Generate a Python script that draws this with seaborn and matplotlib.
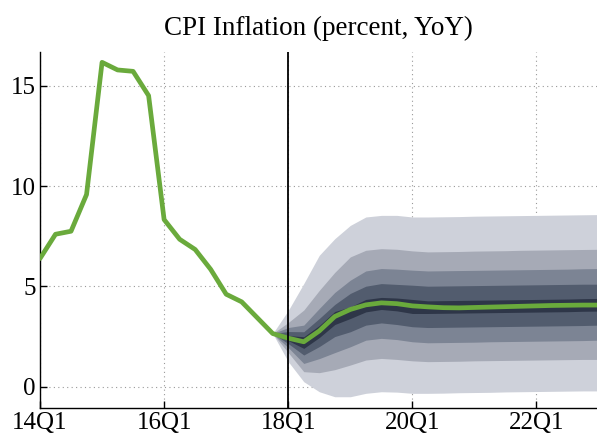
import numpy as np
import pandas as pd
import matplotlib
matplotlib.use("Agg")
import matplotlib.pyplot as plt
import seaborn as sns

# quarters counted from 14Q1 (= 0)
hist_q = list(range(0, 16))
hist_cpi = [6.39, 7.60, 7.75, 9.58, 16.17, 15.79, 15.72, 14.51,
            8.33, 7.35, 6.84, 5.85, 4.61, 4.23, 3.44, 2.65]

fan_q = list(range(15, 37))
median = [2.65, 2.42, 2.24, 2.78, 3.50, 3.85, 4.08, 4.18, 4.14, 4.03, 3.98,
          3.94, 3.93, 3.95, 3.97, 3.99, 4.01, 4.03, 4.05, 4.06, 4.07, 4.07]

# band bounds, outermost first
upper_90 = [2.65, 3.80, 5.14, 6.55, 7.38, 8.04, 8.46, 8.54, 8.54, 8.46, 8.46,
            8.47, 8.48, 8.50, 8.51, 8.52, 8.53, 8.54, 8.55, 8.56, 8.57, 8.58]
lower_90 = [2.65, 1.25, 0.25, -0.25, -0.50, -0.50, -0.33, -0.25, -0.27, -0.33, -0.33,
            -0.32, -0.30, -0.29, -0.28, -0.26, -0.25, -0.24, -0.23, -0.22, -0.21, -0.21]
upper_70 = [2.65, 3.20, 3.82, 4.80, 5.70, 6.47, 6.80, 6.88, 6.85, 6.77, 6.72,
            6.73, 6.74, 6.76, 6.77, 6.78, 6.80, 6.81, 6.82, 6.83, 6.84, 6.85]
lower_70 = [2.65, 1.70, 0.75, 0.70, 0.85, 1.08, 1.33, 1.41, 1.36, 1.29, 1.25,
            1.26, 1.27, 1.29, 1.30, 1.31, 1.32, 1.33, 1.34, 1.35, 1.36, 1.36]
upper_50 = [2.65, 2.95, 3.07, 3.90, 4.70, 5.31, 5.77, 5.89, 5.86, 5.81, 5.77,
            5.78, 5.79, 5.80, 5.81, 5.82, 5.83, 5.84, 5.85, 5.86, 5.88, 5.89]
lower_50 = [2.65, 1.95, 1.16, 1.40, 1.70, 1.99, 2.32, 2.41, 2.35, 2.24, 2.19,
            2.20, 2.21, 2.22, 2.24, 2.25, 2.26, 2.27, 2.28, 2.29, 2.30, 2.32]
upper_30 = [2.65, 2.75, 2.74, 3.40, 4.10, 4.65, 5.01, 5.14, 5.10, 5.06, 5.01,
            5.02, 5.03, 5.04, 5.05, 5.06, 5.07, 5.08, 5.09, 5.10, 5.11, 5.11]
lower_30 = [2.65, 2.15, 1.58, 2.00, 2.50, 2.74, 3.07, 3.18, 3.10, 2.99, 2.95,
            2.96, 2.97, 2.98, 2.99, 3.00, 3.01, 3.02, 3.03, 3.04, 3.05, 3.07]
upper_10 = [2.65, 2.55, 2.49, 3.05, 3.75, 3.98, 4.35, 4.45, 4.42, 4.35, 4.28,
            4.29, 4.30, 4.31, 4.32, 4.33, 4.34, 4.35, 4.36, 4.37, 4.39, 4.40]
lower_10 = [2.65, 2.30, 1.91, 2.45, 3.10, 3.40, 3.73, 3.85, 3.78, 3.65, 3.65,
            3.66, 3.67, 3.68, 3.69, 3.70, 3.71, 3.72, 3.73, 3.74, 3.76, 3.77]

band_colors = ["#ced1da", "#a6aab6", "#7c8494", "#525c6e", "#2e3648"]
green = "#6aaa3c"

tick_q = [0, 8, 16, 24, 32]
tick_labels = ["14Q1", "16Q1", "18Q1", "20Q1", "22Q1"]

sns.set_style("ticks")
plt.rcParams["font.family"] = ["Liberation Serif", "DejaVu Serif"]
plt.rcParams["text.color"] = "black"
plt.rcParams["xtick.color"] = "black"
plt.rcParams["ytick.color"] = "black"
plt.rcParams["axes.labelcolor"] = "black"

fig = plt.figure(figsize=(5.97, 4.38), dpi=100)
ax = fig.add_axes([0.067, 0.069, 0.933, 0.813])

bands = [(upper_90, lower_90), (upper_70, lower_70), (upper_50, lower_50),
         (upper_30, lower_30), (upper_10, lower_10)]
for (up, lo), col in zip(bands, band_colors):
    ax.fill_between(fan_q, lo, up, color=col, linewidth=0, zorder=2)

line_df = pd.DataFrame({"q": hist_q + fan_q[1:], "cpi": hist_cpi + median[1:]})
sns.lineplot(data=line_df, x="q", y="cpi", color=green, linewidth=3.4, ax=ax, zorder=4)

ax.axvline(16, color="black", linewidth=1.3, zorder=5)

ax.set_xlim(0, 35.9)
ax.set_ylim(-1.05, 16.7)
ax.set_xticks(tick_q)
ax.set_xticklabels(tick_labels)
ax.set_yticks([0, 5, 10, 15])
ax.grid(True, linestyle=(0, (1, 3)), color="#999999", linewidth=0.8, zorder=0)
ax.set_axisbelow(True)
ax.tick_params(direction="in", labelsize=18, length=5, width=1, pad=3,
               colors="black")
ax.set_xlabel("")
ax.set_ylabel("")
for s in ["top", "right"]:
    ax.spines[s].set_visible(False)
for s in ["left", "bottom"]:
    ax.spines[s].set_color("black")
    ax.spines[s].set_linewidth(1.0)
ax.set_title("CPI Inflation (percent, YoY)", fontsize=19.5, pad=12, color="black")

fig.savefig("out.png", dpi=100)
